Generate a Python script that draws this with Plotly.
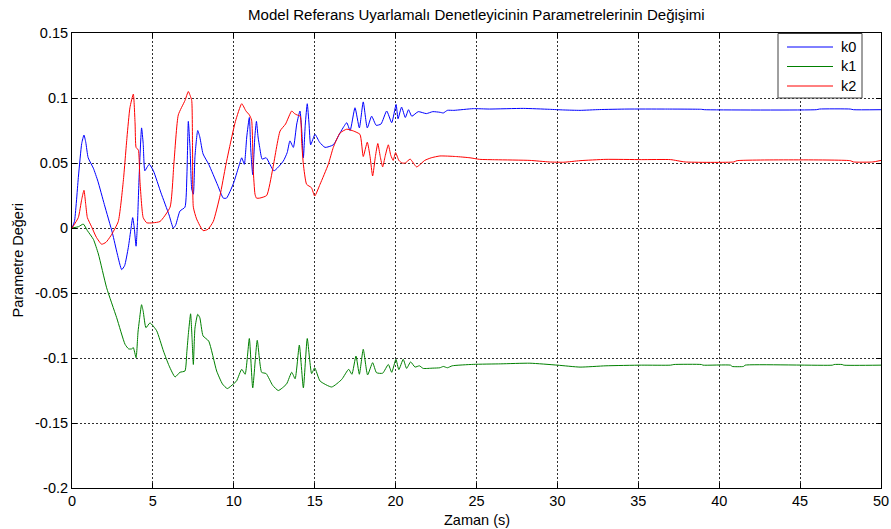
import plotly.graph_objects as go

# Time samples (s) and parameter trajectories of the adaptive controller
t_k0 = [0, 0.15, 0.4, 0.6, 0.74, 0.85, 1.0, 1.32, 1.6, 2.0, 2.5, 2.8, 3.07, 3.25, 3.48, 3.65, 3.75, 3.85,
        3.96, 4.05, 4.15, 4.3, 4.4, 4.5, 4.65, 4.78, 5.03, 5.5, 6.0, 6.26, 6.4, 6.67, 6.98, 7.1, 7.19, 7.3,
        7.4, 7.5, 7.6, 7.77, 7.9, 8.1, 8.45, 9.0, 9.35, 9.55, 9.97, 10.3, 10.49, 10.65, 10.8, 10.96, 11.05,
        11.17, 11.3, 11.4, 11.5, 11.6, 11.75, 12.0, 12.48, 13.06, 13.3, 13.47, 13.68, 13.89, 14.09, 14.2,
        14.3, 14.42, 14.54, 14.65, 14.75, 15.02, 15.3, 15.64, 16.15, 16.56, 16.8, 16.98, 17.19, 17.49, 17.76,
        18.0, 18.25, 18.52, 18.8, 19.1, 19.45, 19.76, 20.03, 20.15, 20.37, 20.6, 20.8, 21.0, 21.4, 21.9,
        22.3, 22.74, 22.95, 23.2, 23.6, 24.8, 25.8, 27.9, 29.5, 30.4, 31.4, 32.6, 34.3, 36.6, 38.9, 39.1,
        46.0, 46.2, 48.1, 48.3, 50]
k0 = [0, 0.005, 0.04, 0.065, 0.0715, 0.066, 0.054, 0.046, 0.036, 0.018, -0.004, -0.02, -0.032, -0.029,
      -0.015, 0.0, 0.008, 0.0, -0.014, 0.005, 0.04, 0.077, 0.065, 0.044, 0.047, 0.049, 0.044, 0.027, 0.01,
      0.0, 0.002, 0.013, 0.016, 0.04, 0.082, 0.06, 0.03, 0.026, 0.055, 0.075, 0.07, 0.057, 0.049, 0.033,
      0.023, 0.023, 0.034, 0.047, 0.054, 0.049, 0.07, 0.085, 0.06, 0.041, 0.07, 0.082, 0.07, 0.062, 0.053,
      0.054, 0.044, 0.0515, 0.058, 0.067, 0.062, 0.08, 0.09, 0.075, 0.054, 0.08, 0.0956, 0.08, 0.064, 0.072,
      0.066, 0.062, 0.064, 0.073, 0.078, 0.081, 0.075, 0.0925, 0.077, 0.097, 0.077, 0.086, 0.079, 0.08,
      0.09, 0.081, 0.095, 0.084, 0.093, 0.085, 0.091, 0.086, 0.0895, 0.088, 0.0895, 0.089, 0.0885, 0.0905,
      0.0905, 0.0918, 0.0915, 0.092, 0.0913, 0.0908, 0.0905, 0.0911, 0.0915, 0.0915, 0.0913, 0.091, 0.091,
      0.0915, 0.0915, 0.091, 0.091]

t_k1 = [0, 0.4, 0.7, 0.95, 1.32, 1.63, 2.14, 2.76, 3.28, 3.5, 3.69, 3.79, 3.96, 4.08, 4.16, 4.3, 4.4, 4.57,
        4.82, 5.23, 5.65, 6.0, 6.37, 6.67, 6.98, 7.1, 7.19, 7.33, 7.42, 7.5, 7.6, 7.77, 7.9, 8.1, 8.45, 8.94,
        9.3, 9.6, 9.97, 10.17, 10.49, 10.7, 10.96, 11.17, 11.45, 11.72, 12.0, 12.4, 12.75, 13.26, 13.58,
        13.79, 14.05, 14.3, 14.54, 14.81, 15.0, 15.33, 16.05, 16.67, 17.1, 17.3, 17.55, 17.76, 18.0, 18.27,
        18.58, 18.82, 19.2, 19.55, 19.76, 20.02, 20.2, 20.47, 20.68, 20.93, 21.2, 21.47, 21.7, 22.3, 22.74,
        22.95, 23.2, 23.5, 24.8, 26.5, 28.3, 30.0, 31.4, 33.0, 35.2, 37.0, 37.2, 38.9, 39.0, 40.7, 40.8,
        41.5, 41.6, 47.0, 47.1, 47.6, 47.7, 50]
k1 = [0, 0.001, 0.003, -0.002, -0.0087, -0.02, -0.046, -0.069, -0.0895, -0.093, -0.093, -0.092, -0.0998,
      -0.08, -0.0715, -0.059, -0.064, -0.0767, -0.073, -0.079, -0.0946, -0.106, -0.1146, -0.111, -0.11,
      -0.095, -0.0818, -0.066, -0.085, -0.105, -0.077, -0.0664, -0.069, -0.083, -0.087, -0.11, -0.12,
      -0.1235, -0.12, -0.1177, -0.1087, -0.1125, -0.085, -0.123, -0.0864, -0.111, -0.112, -0.121, -0.125,
      -0.12, -0.111, -0.116, -0.09, -0.123, -0.085, -0.112, -0.1075, -0.1177, -0.1223, -0.1165, -0.1087,
      -0.1125, -0.0985, -0.1125, -0.0933, -0.113, -0.1036, -0.1113, -0.1117, -0.105, -0.111, -0.101,
      -0.109, -0.101, -0.108, -0.103, -0.107, -0.106, -0.108, -0.1078, -0.1075, -0.1065, -0.1075, -0.106,
      -0.1049, -0.1045, -0.104, -0.1055, -0.107, -0.106, -0.1055, -0.1055, -0.105, -0.105, -0.1055,
      -0.1055, -0.1065, -0.1065, -0.1055, -0.1055, -0.105, -0.105, -0.1055, -0.1055]

t_k2 = [0, 0.39, 0.6, 0.74, 0.85, 0.95, 1.21, 1.5, 1.83, 2.1, 2.4, 2.86, 3.17, 3.4, 3.58, 3.79, 3.9, 3.96,
        4.1, 4.2, 4.4, 4.62, 5.0, 5.44, 6.06, 6.3, 6.57, 6.98, 7.19, 7.3, 7.4, 7.45, 7.5, 7.7, 8.1, 8.4,
        8.73, 9.15, 9.5, 9.77, 10.1, 10.49, 10.75, 10.96, 11.1, 11.2, 11.31, 11.4, 11.6, 12.03, 12.4, 12.86,
        13.2, 13.58, 13.75, 13.9, 14.1, 14.2, 14.3, 14.5, 14.8, 15.0, 15.33, 15.84, 16.15, 16.56, 16.98,
        17.4, 17.8, 18.0, 18.25, 18.42, 18.58, 18.75, 18.9, 19.05, 19.2, 19.35, 19.55, 19.7, 19.85, 20.0,
        20.2, 20.4, 20.6, 20.9, 21.3, 21.8, 22.2, 22.74, 23.7, 24.6, 25.2, 26.2, 28.3, 29.5, 30.4, 31.4,
        33.0, 35.2, 37.0, 37.9, 40.9, 41.1, 48.1, 48.3, 49.5, 50]
k2 = [0, 0.008, 0.022, 0.029, 0.018, 0.008, 0.001, -0.007, -0.0125, -0.011, -0.006, 0.005, 0.036, 0.07,
      0.0925, 0.103, 0.08, 0.062, 0.06, 0.036, 0.008, 0.004, 0.004, 0.005, 0.016, 0.05, 0.087, 0.098,
      0.105, 0.102, 0.098, 0.06, 0.016, 0.007, -0.002, -0.001, 0.005, 0.025, 0.048, 0.064, 0.082, 0.0956,
      0.09, 0.087, 0.083, 0.045, 0.026, 0.023, 0.023, 0.025, 0.045, 0.0746, 0.08, 0.09, 0.088, 0.087,
      0.086, 0.065, 0.049, 0.0336, 0.031, 0.0246, 0.0336, 0.049, 0.062, 0.073, 0.076, 0.0746, 0.072,
      0.055, 0.066, 0.055, 0.04, 0.055, 0.065, 0.055, 0.047, 0.055, 0.064, 0.056, 0.052, 0.058, 0.052,
      0.05, 0.05, 0.053, 0.047, 0.052, 0.054, 0.0554, 0.055, 0.054, 0.0528, 0.0525, 0.052, 0.0508,
      0.0506, 0.0518, 0.0528, 0.0526, 0.0526, 0.0508, 0.0508, 0.0518, 0.0518, 0.0508, 0.0508, 0.052]

series_names = ["k0", "k1", "k2"]
series_colors = ["#0000ff", "#008000", "#ff0000"]

x_ticks = [0, 5, 10, 15, 20, 25, 30, 35, 40, 45, 50]
y_ticks = [-0.2, -0.15, -0.1, -0.05, 0, 0.05, 0.1, 0.15]
y_ticktext = ["-0.2", "-0.15", "-0.1", "-0.05", "0", "0.05", "0.1", "0.15"]

FONT = "Arial, Liberation Sans, sans-serif"
FS = 14.5
TITLE_FS = 15.05

# Figure geometry (pixels)
W, H = 891, 529
ML, MR, MT, MB = 72, 10, 33, 41
PW, PH = W - ML - MR, H - MT - MB


def px_to_paper(px, py):
    return (px - ML) / PW, (H - MB - py) / PH


fig = go.Figure()
line_opts = dict(width=1, shape="spline", smoothing=0.5)
for name, color, tx, ty in zip(series_names, series_colors, [t_k0, t_k1, t_k2], [k0, k1, k2]):
    fig.add_trace(go.Scatter(x=tx, y=ty, mode="lines", name=name, showlegend=False,
                             line=dict(color=color, **line_opts)))

# Boxed legend in the upper-right corner of the axes
shapes = []
annotations = []
bx0, by0 = px_to_paper(778, 98)
bx1, by1 = px_to_paper(862, 33.5)
shapes.append(dict(type="rect", xref="paper", yref="paper", x0=bx0, y0=by0, x1=bx1, y1=by1,
                   line=dict(color="#404040", width=1), fillcolor="white", layer="above"))
for i, (name, color) in enumerate(zip(series_names, series_colors)):
    py = 47 + 19.5 * i
    lx0, ly = px_to_paper(787, py)
    lx1, _ = px_to_paper(833, py)
    tx, _ = px_to_paper(839, py)
    shapes.append(dict(type="line", xref="paper", yref="paper", x0=lx0, x1=lx1, y0=ly, y1=ly,
                       line=dict(color=color, width=1), layer="above"))
    annotations.append(dict(text=name, xref="paper", yref="paper", x=tx, y=ly, xanchor="left",
                            yanchor="middle", showarrow=False,
                            font=dict(family=FONT, size=FS, color="black")))

axis_common = dict(
    showline=True, linecolor="black", linewidth=1, mirror="ticks",
    ticks="inside", ticklen=5, tickcolor="black", tickwidth=1,
    showgrid=True, gridcolor="#303030", gridwidth=1, griddash="2px,2px",
    zeroline=False, automargin=False,
    tickfont=dict(family=FONT, size=FS, color="black"),
)

annotations += [
    dict(text="Model Referans Uyarlamalı Denetleyicinin Parametrelerinin Değişimi",
         xref="paper", yref="paper", x=0.5, y=1.0, yshift=19, xanchor="center", yanchor="middle",
         showarrow=False, font=dict(family=FONT, size=TITLE_FS)),
    dict(text="Zaman (s)", xref="paper", yref="paper", x=0.5, y=0, yshift=-32,
         xanchor="center", yanchor="middle", showarrow=False, font=dict(family=FONT, size=FS)),
    dict(text="Parametre Değeri", xref="paper", yref="paper", x=0, y=0.5, xshift=-55,
         xanchor="center", yanchor="middle", textangle=-90, showarrow=False,
         font=dict(family=FONT, size=FS)),
]

fig.update_layout(
    width=W, height=H,
    margin=dict(l=ML, r=MR, t=MT, b=MB, autoexpand=False),
    paper_bgcolor="white", plot_bgcolor="white",
    font=dict(family=FONT, size=FS, color="black"),
    xaxis=dict(range=[0, 50], tickvals=x_ticks, **axis_common),
    yaxis=dict(range=[-0.2, 0.15], tickvals=y_ticks, ticktext=y_ticktext, **axis_common),
    showlegend=False,
    shapes=shapes,
    annotations=annotations,
)

fig.write_html("out.html")
